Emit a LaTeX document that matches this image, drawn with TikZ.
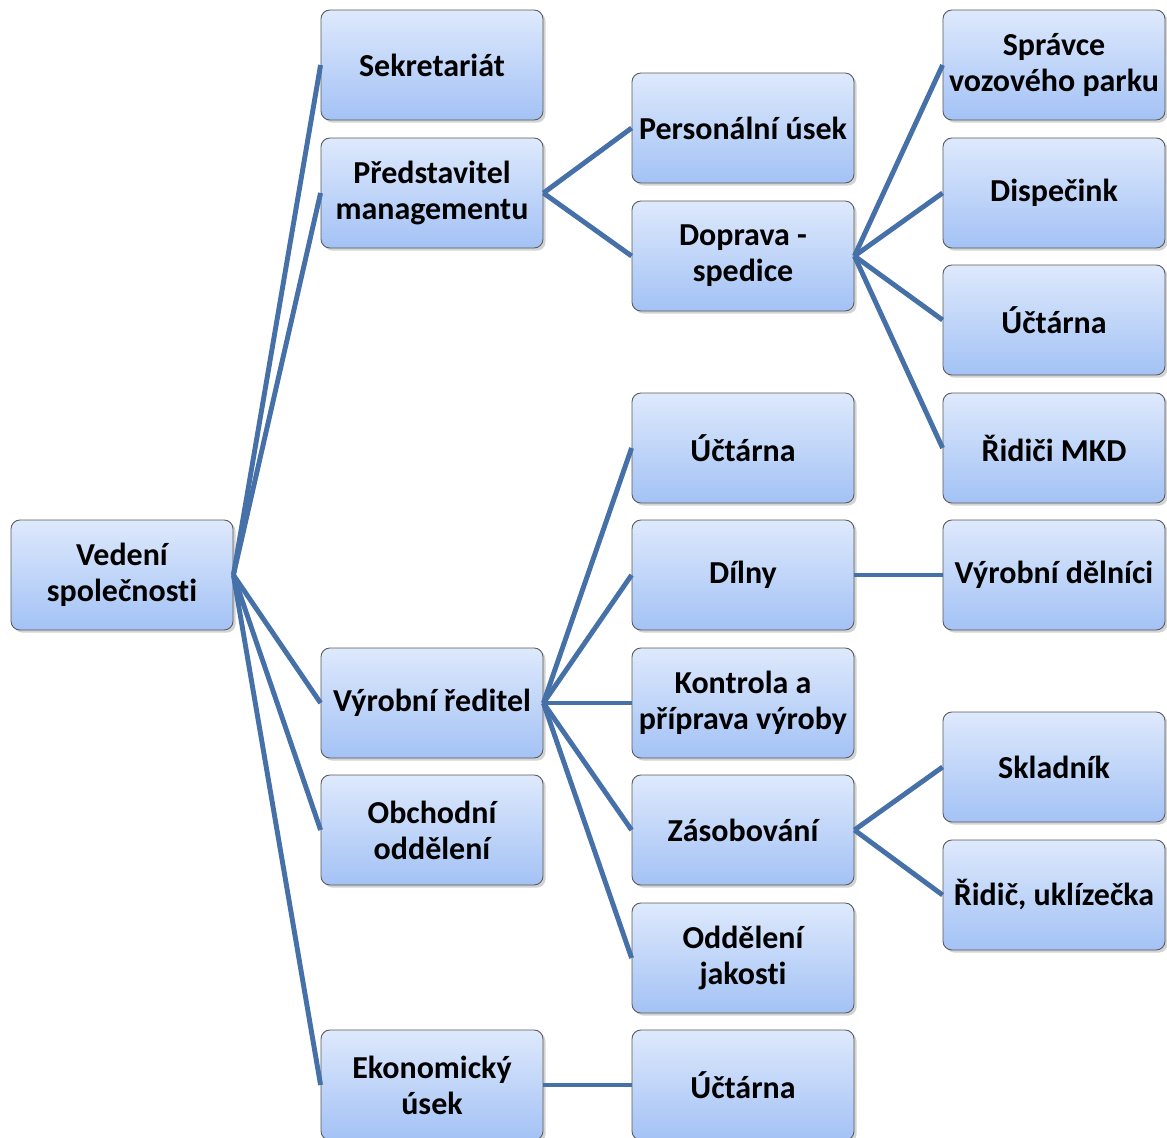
\documentclass[tikz,border=0pt]{standalone}
\usepackage{fontspec}
\setmainfont[Ligatures=NoCommon]{Carlito}
\usetikzlibrary{shadows}

\definecolor{linkblue}{RGB}{70,112,168}
\definecolor{boxtop}{RGB}{222,233,252}
\definecolor{boxbottom}{RGB}{163,194,245}

\begin{document}
\begin{tikzpicture}
  [x=0.02cm, y=-0.02cm,
   unit/.style={draw=black!65, line width=0.5pt, rounded corners=5pt,
     top color=boxtop, bottom color=boxbottom,
     drop shadow={shadow xshift=1.5pt, shadow yshift=-1.5pt, opacity=0.35},
     minimum width=4.44cm, minimum height=2.2cm, inner sep=1pt,
     align=center, font=\fontsize{18.2}{20.5}\selectfont\bfseries},
   link/.style={draw=linkblue, line width=2.8pt}]
  \useasboundingbox (0,0) rectangle (1167,1137);

  \node[unit] (vedeni) at (122,575) {Vedení\\společnosti};

  \node[unit] (sekret) at (432,65) {Sekretariát};
  \node[unit] (predst) at (432,193) {Představitel\\managementu};
  \node[unit] (vyrred) at (432,703) {Výrobní ředitel};
  \node[unit] (obchod) at (432,830) {Obchodní\\oddělení};
  \node[unit] (ekonom) at (432,1085) {Ekonomický\\úsek};

  \node[unit] (person) at (743,128) {Personální úsek};
  \node[unit] (doprava) at (743,256) {Doprava -\\spedice};
  \node[unit] (uctvyr) at (743,448) {Účtárna};
  \node[unit] (dilny) at (743,575) {Dílny};
  \node[unit] (kontrola) at (743,703) {Kontrola a\\příprava výroby};
  \node[unit] (zasob) at (743,830) {Zásobování};
  \node[unit] (jakost) at (743,958) {Oddělení\\jakosti};
  \node[unit] (uctekon) at (743,1085) {Účtárna};

  \node[unit] (spravce) at (1054,65) {Správce\\vozového parku};
  \node[unit] (dispec) at (1054,193) {Dispečink};
  \node[unit] (uctdop) at (1054,320) {Účtárna};
  \node[unit] (ridici) at (1054,448) {Řidiči MKD};
  \node[unit] (delnici) at (1054,575) {Výrobní dělníci};
  \node[unit] (sklad) at (1054,767) {Skladník};
  \node[unit] (ridic) at (1054,895) {Řidič, uklízečka};

  \foreach \child in {sekret,predst,vyrred,obchod,ekonom}
    \draw[link] (vedeni.east) -- (\child.west);
  \foreach \child in {person,doprava}
    \draw[link] (predst.east) -- (\child.west);
  \foreach \child in {spravce,dispec,uctdop,ridici}
    \draw[link] (doprava.east) -- (\child.west);
  \foreach \child in {uctvyr,dilny,kontrola,zasob,jakost}
    \draw[link] (vyrred.east) -- (\child.west);
  \draw[link] (dilny.east) -- (delnici.west);
  \foreach \child in {sklad,ridic}
    \draw[link] (zasob.east) -- (\child.west);
  \draw[link] (ekonom.east) -- (uctekon.west);
\end{tikzpicture}
\end{document}
